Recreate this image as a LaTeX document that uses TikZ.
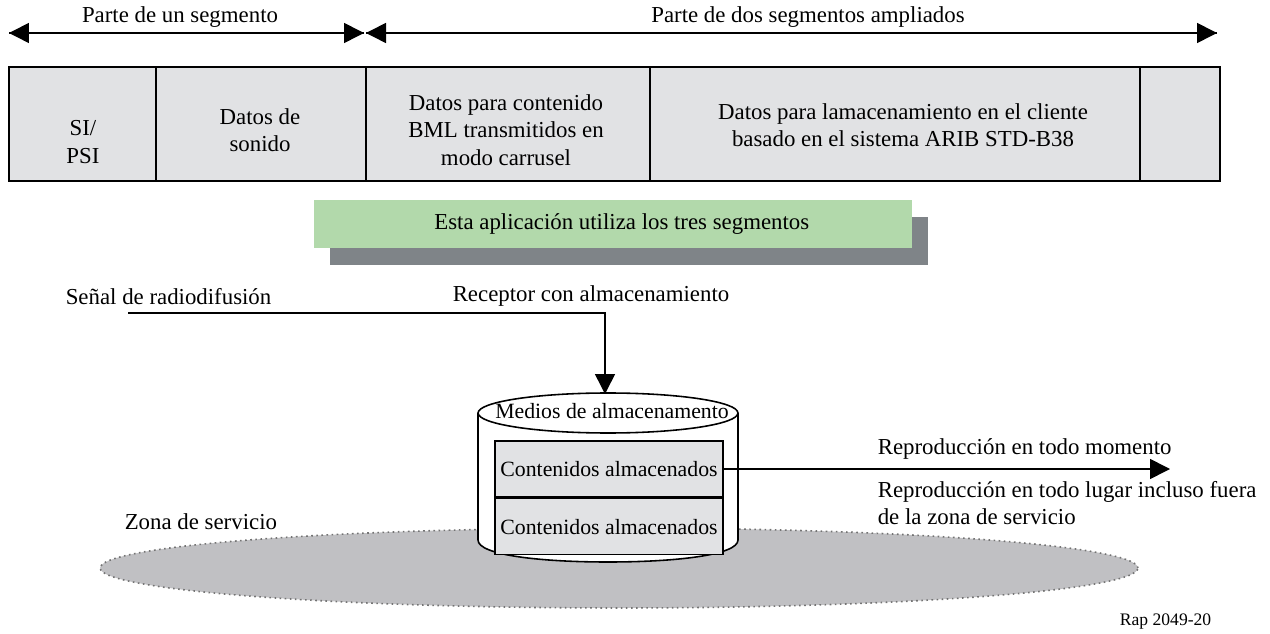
\documentclass[tikz,border=0pt]{standalone}
\usepackage{fontspec}
\setmainfont{Liberation Serif}
\usetikzlibrary{arrows.meta,positioning}
\definecolor{barGray}{HTML}{E1E2E4}
\definecolor{appGreen}{HTML}{B2D9AB}
\definecolor{shadowGray}{HTML}{7F8488}
\definecolor{zoneGray}{HTML}{C0C0C3}

\tikzset{
  lbl/.style={font=\fontsize{13}{15.5}\selectfont, inner sep=0pt, align=center},
  bigtip/.style={-{Triangle[length=0.4cm,width=0.4cm]}},
  store/.style={lbl, font=\fontsize{12.4}{15}\selectfont, draw, fill=barGray, minimum width=4.56cm, minimum height=1.12cm},
}

\begin{document}
\begin{tikzpicture}[x=0.02cm, y=-0.02cm, line width=0.9pt]
    \useasboundingbox (0,0) rectangle (1270,634);

    % segment arrows
    \coordinate (segA) at (9,33);
    \coordinate (segB) at (364,33);
    \coordinate (segC) at (366,33);
    \coordinate (segD) at (1217,33);
    \draw[bigtip] (segB) -- (segA);
    \draw[bigtip] (segA) -- (segB);
    \draw[bigtip] (segD) -- (segC);
    \draw[bigtip] (segC) -- (segD);
    \node[lbl] (partUno) at (180,17) {Parte de un segmento};
    \node[lbl] (partDos) at (808,17) {Parte de dos segmentos ampliados};

    % transport stream bar
    \fill[barGray] (9,67) rectangle (1220,181);
    \draw (9,67) rectangle (1220,181);
    \foreach \x in {156,366,650,1140} \draw (\x,67) -- (\x,181);
    \node[lbl] (psi) at (83,142) {SI/\\PSI};
    \node[lbl] (sonido) at (260,130) {Datos de\\sonido};
    \node[lbl] (bml) at (506,130) {Datos para contenido\\BML transmitidos en\\modo carrusel};
    \node[lbl] (arib) at (903,125) {Datos para lamacenamiento en el cliente\\basado en el sistema ARIB STD-B38};

    % application banner
    \fill[shadowGray] (330,217) rectangle (928,265);
    \node[lbl, fill=appGreen, minimum width=11.96cm, minimum height=0.96cm] (app) at (613,224)
        {\hspace{0.35cm}Esta aplicación utiliza los tres segmentos};

    % service zone
    \draw[dotted, draw=black!55, fill=zoneGray] (619,568) ellipse (10.38cm and 0.8cm);
    \node[lbl, anchor=west] (zona) at (124,522) {Zona de servicio};

    % broadcast signal
    \node[lbl, anchor=west] (senal) at (65,297) {Señal de radiodifusión};
    \node[lbl] (receptor) at (591,296) {Receptor con almacenamiento};
    \coordinate (sig) at (128,313);
    \coordinate (cyltop) at (605,394);
    \draw[bigtip] (sig) -| (cyltop);

    % storage cylinder
    \draw[fill=white] (478,413) -- (478,540) .. controls (478,555) and (540,562) .. (608,562)
        .. controls (676,562) and (738,555) .. (738,540) -- (738,413);
    \draw[fill=white] (608,413) ellipse (2.6cm and 0.4cm);
    \node[lbl, font=\fontsize{12.4}{15}\selectfont] (medios) at (612,411) {Medios de almacenamento};
    \node[store] (cont1) at (609,469) {Contenidos almacenados};
    \node[store, below=0pt of cont1] (cont2) {Contenidos almacenados};

    % playback
    \coordinate (outR) at (1170,469);
    \draw[bigtip] (cont1.east) -- (outR);
    \node[lbl, anchor=west] (momento) at (877,449) {Reproducción en todo momento};
    \node[lbl, anchor=west, align=left] (lugar) at (877,503)
        {Reproducción en todo lugar incluso fuera\\de la zona de servicio};

    \node[font=\fontsize{10}{12}\selectfont, inner sep=0pt, anchor=east] (rap) at (1212,622) {Rap 2049-20};
\end{tikzpicture}
\end{document}
